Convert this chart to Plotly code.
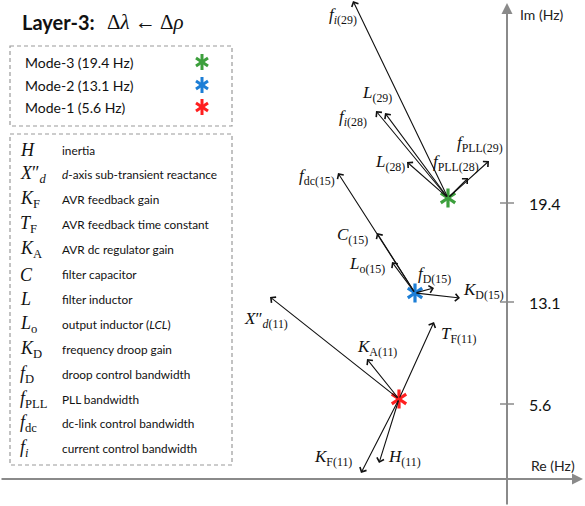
import plotly.graph_objects as go

W, H = 585, 506

# ---------------- data ----------------
# modes (schematic root-locus positions, canvas units)
mode_names = ["Mode-1", "Mode-2", "Mode-3"]
mode_freq = [5.6, 13.1, 19.4]
mode_re = [399, 415, 448]
mode_im = [399, 293, 198]
mode_colors = ["#ff1f1f", "#1c7ed6", "#3c9f3c"]

# eigenvalue sensitivity arrows: mode index, parameter label, displacement
arrow_mode = [2, 2, 2, 2, 2, 2, 1, 1, 1, 1, 1, 0, 0, 0, 0, 0]
arrow_label = [
    "<i>f</i><sub><i>i</i>(29)</sub>",
    "<i>L</i><sub>(29)</sub>",
    "<i>f</i><sub><i>i</i>(28)</sub>",
    "<i>L</i><sub>(28)</sub>",
    "<i>f</i><sub>PLL(28)</sub>",
    "<i>f</i><sub>PLL(29)</sub>",
    "<i>f</i><sub>dc(15)</sub>",
    "<i>C</i><sub>(15)</sub>",
    "<i>L</i><sub>o(15)</sub>",
    "<i>f</i><sub>D(15)</sub>",
    "<i>K</i><sub>D(15)</sub>",
    "<i>X</i>″<sub><i>d</i>(11)</sub>",
    "<i>K</i><sub>A(11)</sub>",
    "<i>T</i><sub>F(11)</sub>",
    "<i>K</i><sub>F(11)</sub>",
    "<i>H</i><sub>(11)</sub>",
]
arrow_dre = [-95, -63, -72, -41, 20, 41, -77, -38, -23, 19, 45, -129, -32, 35, -38, -20]
arrow_dim = [-197, -85, -87, -36, -20, -37, -120, -60, -31, -5, 5, -102, -40, -77, 74, 64]

# parameter glossary
param_symbols = [
    "<i>H</i>", "<i>X</i>″<sub><i>d</i></sub>", "<i>K</i><sub>F</sub>", "<i>T</i><sub>F</sub>",
    "<i>K</i><sub>A</sub>", "<i>C</i>", "<i>L</i>", "<i>L</i><sub>o</sub>", "<i>K</i><sub>D</sub>",
    "<i>f</i><sub>D</sub>", "<i>f</i><sub>PLL</sub>", "<i>f</i><sub>dc</sub>", "<i>f</i><sub><i>i</i></sub>",
]
param_desc = [
    "inertia", "<i>d</i>-axis sub-transient reactance", "AVR feedback gain",
    "AVR feedback time constant", "AVR dc regulator gain", "filter capacitor",
    "filter inductor", "output inductor (<i>LCL</i>)", "frequency droop gain",
    "droop control bandwidth", "PLL bandwidth", "dc-link control bandwidth",
    "current control bandwidth",
]

# ---------------- layout helpers (positions) ----------------
label_x = [343, 377, 353, 390, 456, 480, 317, 352, 367, 434, 483, 266, 377, 458, 333, 404]
label_y = [16, 94, 118, 163, 163, 144, 177, 236, 265, 275, 291, 320, 348, 335, 458, 458]
tick_y = [404, 302, 203]
axis_x, axis_y = 507, 479

SERIF = "Liberation Serif"
SANS = "Lato"
GRAY = "#8a8a8a"
BOXGRAY = "#9a9a9a"

fig = go.Figure()
annotations = []
shapes = []

# axes arrows
annotations.append(dict(x=583, y=axis_y, ax=0, ay=axis_y, xref="x", yref="y", axref="x", ayref="y",
                        text="", showarrow=True, arrowhead=2, arrowsize=1.1, arrowwidth=2,
                        arrowcolor=GRAY, standoff=0, startstandoff=0))
annotations.append(dict(x=axis_x, y=3, ax=axis_x, ay=H, xref="x", yref="y", axref="x", ayref="y",
                        text="", showarrow=True, arrowhead=2, arrowsize=1.1, arrowwidth=2,
                        arrowcolor=GRAY, standoff=0, startstandoff=0))
annotations.append(dict(x=518, y=14, xref="x", yref="y", text="Im (Hz)", showarrow=False,
                        xanchor="left", yanchor="middle", font=dict(family=SANS, size=14, color="#222")))
annotations.append(dict(x=577, y=465, xref="x", yref="y", text="Re (Hz)", showarrow=False,
                        xanchor="right", yanchor="middle", font=dict(family=SANS, size=14, color="#222")))

# Im ticks
for ty, f in zip(tick_y, mode_freq):
    shapes.append(dict(type="line", x0=axis_x - 7, x1=axis_x + 7, y0=ty, y1=ty,
                       xref="x", yref="y", line=dict(color=GRAY, width=1.5)))
    annotations.append(dict(x=527, y=ty, xref="x", yref="y", text=f"{f}", showarrow=False,
                            xanchor="left", yanchor="middle", font=dict(family=SANS, size=16, color="#111")))

# sensitivity arrows + labels
for m, lab, dx, dy, lx, ly in zip(arrow_mode, arrow_label, arrow_dre, arrow_dim, label_x, label_y):
    x0, y0 = mode_re[m], mode_im[m]
    annotations.append(dict(x=x0 + dx, y=y0 + dy, ax=x0, ay=y0, xref="x", yref="y",
                            axref="x", ayref="y", text="", showarrow=True, arrowhead=4,
                            arrowsize=1.3, arrowwidth=1.1, arrowcolor="#111",
                            standoff=0, startstandoff=0))
    annotations.append(dict(x=lx, y=ly, xref="x", yref="y", text=lab, showarrow=False,
                            xanchor="center", yanchor="middle",
                            font=dict(family=SERIF, size=17, color="#111")))

# mode markers (6-armed asterisks)
for sym in ["y-up-open", "y-down-open"]:
    fig.add_trace(go.Scatter(x=mode_re, y=mode_im, mode="markers", hoverinfo="skip",
                             marker=dict(symbol=sym, size=12, color=mode_colors,
                                         line=dict(width=3.2, color=mode_colors))))

# title
annotations.append(dict(x=20, y=22, xref="x", yref="y", text="<b>Layer-3:</b>", showarrow=False,
                        xanchor="left", yanchor="middle", font=dict(family=SANS, size=20, color="#111")))
annotations.append(dict(x=105, y=22, xref="x", yref="y", text="Δ<i>λ</i> ← Δ<i>ρ</i>", showarrow=False,
                        xanchor="left", yanchor="middle", font=dict(family=SERIF, size=21, color="#111")))

# mode legend box
shapes.append(dict(type="rect", x0=10, x1=232, y0=46, y1=126, xref="x", yref="y",
                   line=dict(color=BOXGRAY, width=1.2, dash="4px,3px")))
leg_y = [107, 85, 62]
for name, f, c, ly in zip(mode_names, mode_freq, mode_colors, leg_y):
    annotations.append(dict(x=23, y=ly, xref="x", yref="y", text=f"{name} ({f} Hz)", showarrow=False,
                            xanchor="left", yanchor="middle", font=dict(family=SANS, size=14, color="#111")))
for sym in ["y-up-open", "y-down-open"]:
    fig.add_trace(go.Scatter(x=[202] * 3, y=leg_y, mode="markers", hoverinfo="skip",
                             marker=dict(symbol=sym, size=10, color=mode_colors,
                                         line=dict(width=3, color=mode_colors))))

# glossary box
shapes.append(dict(type="rect", x0=10, x1=232, y0=134, y1=465, xref="x", yref="y",
                   line=dict(color=BOXGRAY, width=1.2, dash="4px,3px")))
for i, (s, d) in enumerate(zip(param_symbols, param_desc)):
    yy = 150 + 24.9 * i
    annotations.append(dict(x=18, y=yy, xref="x", yref="y", text=s, showarrow=False,
                            xanchor="left", yanchor="middle", font=dict(family=SERIF, size=18, color="#111")))
    annotations.append(dict(x=60, y=yy, xref="x", yref="y", text=d, showarrow=False,
                            xanchor="left", yanchor="middle", font=dict(family=SANS, size=11.8, color="#111")))

fig.update_layout(
    width=W, height=H, margin=dict(l=0, r=0, t=0, b=0),
    paper_bgcolor="white", plot_bgcolor="white", showlegend=False,
    xaxis=dict(range=[0, W], visible=False, fixedrange=True),
    yaxis=dict(range=[H, 0], visible=False, fixedrange=True),
    annotations=annotations, shapes=shapes,
)
fig.write_html("out.html", config=dict(displayModeBar=False),
               post_script="document.body.style.margin='0';document.body.style.overflow='hidden';")
